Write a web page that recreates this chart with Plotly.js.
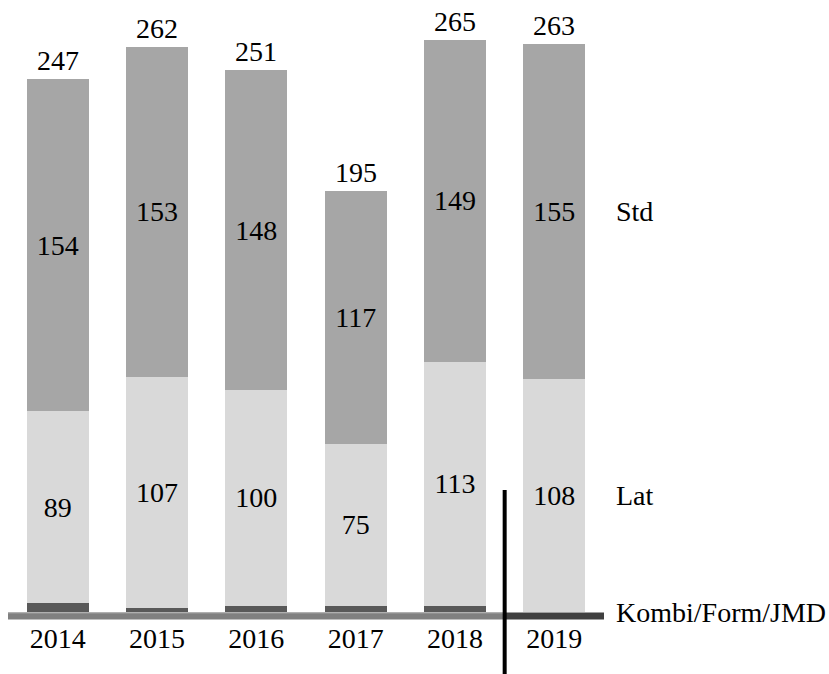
<!DOCTYPE html>
<html>
<head>
<meta charset="utf-8">
<script src="https://cdn.plot.ly/plotly-3.0.1.min.js"></script>
<style>html,body{margin:0;padding:0;background:#fff;}#chart{width:829px;height:674px;}</style>
</head>
<body>
<div id="chart"></div>
<script>
const years = ["2014", "2015", "2016", "2017", "2018", "2019"];
const kombi = [4, 2, 3, 3, 3, 0];
const lat = [89, 107, 100, 75, 113, 108];
const std = [154, 153, 148, 117, 149, 155];
const totals = [247, 262, 251, 195, 265, 263];
const seriesNames = ["Kombi/Form/JMD", "Lat", "Std"];

const FONT = "Liberation Serif, Times New Roman, serif";
const FS = 28;

const traces = [
  {type: "bar", x: years, y: kombi, name: seriesNames[0], marker: {color: "#595959"}, hoverinfo: "none"},
  {type: "bar", x: years, y: lat, name: seriesNames[1], marker: {color: "#d9d9d9"},
   text: lat.map(String), textposition: "inside", insidetextanchor: "middle", textangle: 0,
   constraintext: "none", textfont: {family: FONT, size: FS, color: "#000"}, hoverinfo: "none"},
  {type: "bar", x: years, y: std, name: seriesNames[2], marker: {color: "#a6a6a6"},
   text: std.map(String), textposition: "inside", insidetextanchor: "middle", textangle: 0,
   constraintext: "none", textfont: {family: FONT, size: FS, color: "#000"}, hoverinfo: "none"}
];

const annotations = [];
years.forEach((yr, i) => {
  annotations.push({x: i, y: totals[i], xref: "x", yref: "y", text: String(totals[i]),
    showarrow: false, yanchor: "bottom", yshift: 1, font: {family: FONT, size: FS, color: "#000"}});
});
const last = years.length - 1;
const kTop = kombi[last];
const lTop = kTop + lat[last];
const sTop = lTop + std[last];
[[seriesNames[0], kTop / 2], [seriesNames[1], (kTop + lTop) / 2], [seriesNames[2], (lTop + sTop) / 2]].forEach(([n, yv]) => {
  annotations.push({x: 1, y: yv, xref: "paper", yref: "y", text: n, showarrow: false,
    xanchor: "left", xshift: 10, yanchor: "middle", font: {family: FONT, size: FS, color: "#000"}});
});

const plotH = 612;
const shapes = [
  {type: "line", xref: "x", yref: "paper", x0: -0.5, x1: 4.5, y0: -4 / plotH, y1: -4 / plotH,
   line: {color: "#808080", width: 7}},
  {type: "line", xref: "x", yref: "paper", x0: -0.5, x1: 4.5, y0: -1 / plotH, y1: -1 / plotH,
   line: {color: "#a0a0a0", width: 1}},
  {type: "line", xref: "x", yref: "paper", x0: 4.5, x1: 5.5, y0: -4 / plotH, y1: -4 / plotH,
   line: {color: "#404040", width: 7}},
  {type: "line", xref: "x", yref: "paper", x0: 4.5, x1: 4.5, y0: -62 / plotH, y1: 122 / plotH,
   line: {color: "#000", width: 4}}
];

const layout = {
  width: 829, height: 674,
  margin: {l: 8, r: 225, t: 0, b: 62, pad: 0},
  barmode: "stack",
  bargap: 0.376,
  showlegend: false,
  paper_bgcolor: "#fff", plot_bgcolor: "#fff",
  font: {family: FONT, size: FS, color: "#000"},
  xaxis: {type: "category", range: [-0.5, 5.5], showline: false, showgrid: false, zeroline: false,
    ticks: "outside", ticklen: 1, tickcolor: "rgba(0,0,0,0)",
    tickfont: {family: FONT, size: FS, color: "#000"}, fixedrange: true},
  yaxis: {range: [0, 283.6], visible: false, showgrid: false, zeroline: false, fixedrange: true},
  annotations: annotations,
  shapes: shapes
};

Plotly.newPlot("chart", traces, layout, {displayModeBar: false, staticPlot: true});
</script>
</body>
</html>
